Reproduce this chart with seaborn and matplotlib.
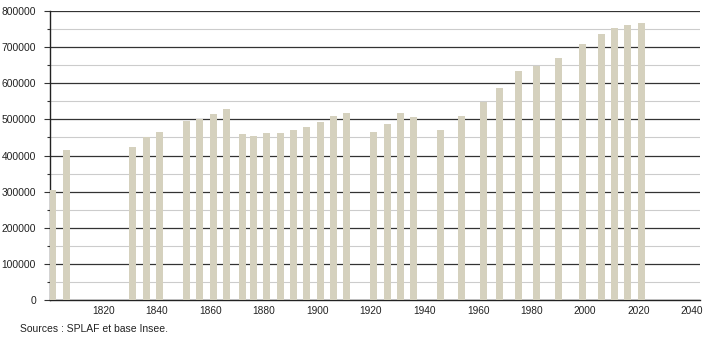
import matplotlib
matplotlib.use("Agg")
import matplotlib.pyplot as plt
import seaborn as sns
import pandas as pd
from matplotlib.ticker import MultipleLocator

years = [1801, 1806, 1831, 1836, 1841, 1851, 1856, 1861, 1866, 1872, 1876, 1881,
         1886, 1891, 1896, 1901, 1906, 1911, 1921, 1926, 1931, 1936, 1946, 1954,
         1962, 1968, 1975, 1982, 1990, 1999, 2006, 2011, 2016, 2021]
population = [304000, 414000, 423000, 450000, 466000, 495000, 501000, 514000,
              529000, 459000, 454000, 461000, 461000, 470000, 478000, 494000,
              510000, 517000, 466000, 488000, 517000, 506000, 470000, 509000,
              549000, 587000, 635000, 648000, 671000, 708000, 735000, 752000,
              762000, 768000]
xtick_labels = [1820, 1840, 1860, 1880, 1900, 1920, 1940, 1960, 1980, 2000, 2020, 2040]
source_text = "Sources : SPLAF et base Insee."

df = pd.DataFrame({"year": years, "pop": population})

sns.set_theme(style="white")
plt.rcParams["font.family"] = ["Liberation Sans", "DejaVu Sans"]

fig = plt.figure(figsize=(7.1, 3.4), dpi=100)
ax = fig.add_axes([0.0704, 0.1176, 0.9156, 0.850])

sns.barplot(data=df, x="year", y="pop", native_scale=True, width=0.65,
            color="#D5D1BE", saturation=1, edgecolor="none", ax=ax, zorder=3)

ax.set_xlim(1800, 2043)
ax.set_ylim(0, 800000)
ax.set_xticks(xtick_labels)
ax.set_xticklabels([str(v) for v in xtick_labels], fontsize=7.3, color="#222222")
ax.yaxis.set_major_locator(MultipleLocator(100000))
ax.yaxis.set_minor_locator(MultipleLocator(50000))
ax.set_yticklabels([f"{int(v)}" for v in ax.get_yticks()], fontsize=7.4, color="#222222")

ax.set_axisbelow(True)
ax.grid(axis="y", which="major", color="#333333", linewidth=0.9, zorder=0)
ax.grid(axis="y", which="minor", color="#cccccc", linewidth=0.8, zorder=0)
ax.grid(axis="x", visible=False)

ax.tick_params(axis="y", which="major", left=True, length=4.3, width=0.8, color="#333333", pad=5.8)
ax.tick_params(axis="y", which="minor", left=True, length=2.0, width=0.8, color="#333333")
ax.tick_params(axis="x", which="both", bottom=False, length=0, pad=4)

for s in ["top", "right"]:
    ax.spines[s].set_visible(False)
for s in ["left", "bottom"]:
    ax.spines[s].set_color("#222222")
    ax.spines[s].set_linewidth(1.0)

ax.set_xlabel("")
ax.set_ylabel("")

fig.text(20 / 710, 1 - 329 / 340, source_text, fontsize=7.5, color="#222222",
         va="center", ha="left")

fig.savefig("out.png", dpi=100)
